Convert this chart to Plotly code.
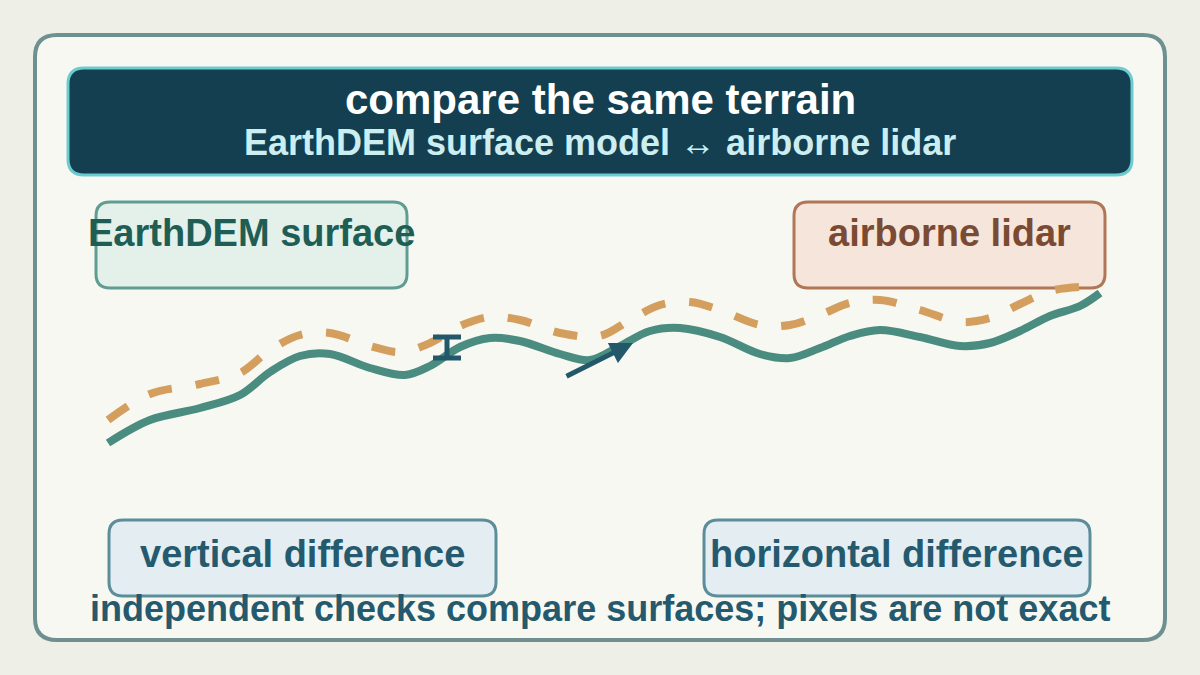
import plotly.graph_objects as go

solid_x = [108,150,200,240,270,300,330,370,405,430,460,490,520,560,590,620,650,680,720,760,790,820,850,880,920,960,990,1020,1050,1080,1100]
solid_y = [443,420,408,395,372,356,354,368,375,366,347,338,341,354,360,346,331,328,337,354,358,348,336,330,337,346,343,331,316,306,293]
dash_x = [108,150,200,240,270,300,330,370,400,430,460,490,520,560,600,630,660,690,720,760,790,820,850,880,920,960,990,1020,1050,1080]
dash_y = [420,394,384,373,350,335,333,346,352,343,326,317,320,333,336,320,305,302,310,325,325,315,303,300,310,322,318,304,291,287]

title = "compare the same terrain"
subtitle = "EarthDEM surface model ↔ airborne lidar"
footer = "independent checks compare surfaces; pixels are not exact"
boxes = [
    ("EarthDEM surface", 96, 202, 407, 288, "#e4f0ea", "#5f9d93", "#1f5e55"),
    ("airborne lidar", 794, 202, 1105, 288, "#f6e5da", "#b07656", "#7a4a33"),
    ("vertical difference", 109, 520, 496, 596, "#e3edf2", "#5b8d9a", "#255a6e"),
    ("horizontal difference", 704, 520, 1090, 596, "#e3edf2", "#5b8d9a", "#255a6e"),
]

def rr(x0, y0, x1, y1, r):
    return (f"M{x0+r},{y0} L{x1-r},{y0} Q{x1},{y0} {x1},{y0+r} L{x1},{y1-r} Q{x1},{y1} {x1-r},{y1} "
            f"L{x0+r},{y1} Q{x0},{y1} {x0},{y1-r} L{x0},{y0+r} Q{x0},{y0} {x0+r},{y0} Z")

FONT = "Liberation Sans, Arial, sans-serif"
fig = go.Figure()
fig.add_trace(go.Scatter(x=dash_x, y=dash_y, mode="lines", line=dict(color="#d49f5e", width=8, dash="dash", shape="spline"), hoverinfo="skip"))
fig.add_trace(go.Scatter(x=solid_x, y=solid_y, mode="lines", line=dict(color="#4a8c80", width=8, shape="spline"), hoverinfo="skip"))
fig.add_trace(go.Scatter(x=[447,447,None,433,461,None,433,461], y=[337,358,None,337,337,None,358,358], mode="lines",
                         line=dict(color="#23586a", width=5), hoverinfo="skip"))

shapes = [
    dict(type="path", path=rr(35, 35, 1165, 640, 22), fillcolor="#f8f8f2", line=dict(color="#6e9090", width=4), layer="below"),
    dict(type="path", path=rr(68, 68, 1132, 175, 16), fillcolor="#133f50", line=dict(color="#6ccbd0", width=3), layer="below"),
]
for t, x0, y0, x1, y1, f, b, c in boxes:
    shapes.append(dict(type="path", path=rr(x0, y0, x1, y1, 14), fillcolor=f, line=dict(color=b, width=3), layer="below"))

ann = [
    dict(x=600, y=99, text=f"<b>{title}</b>", font=dict(size=42, color="white", family=FONT), showarrow=False),
    dict(x=600, y=142, text=f"<b>{subtitle}</b>", font=dict(size=36, color="#cdeef0", family=FONT), showarrow=False),
    dict(x=600, y=608, text=f"<b>{footer}</b>", font=dict(size=36, color="#255a6e", family=FONT), showarrow=False),
    dict(x=633, y=343, ax=565, ay=377, xref="x", yref="y", axref="x", ayref="y", text="", showarrow=True,
         arrowhead=2, arrowsize=0.9, arrowwidth=5, arrowcolor="#23586a"),
]
for t, x0, y0, x1, y1, f, b, c in boxes:
    ann.append(dict(x=(x0+x1)/2, y=(y0+y1)/2 - (12 if y0 < 300 else 4), text=f"<b>{t}</b>",
                    font=dict(size=38, color=c, family=FONT), showarrow=False))

fig.update_layout(
    width=1200, height=675, margin=dict(l=0, r=0, t=0, b=0), showlegend=False,
    paper_bgcolor="#eef0e8", plot_bgcolor="rgba(0,0,0,0)",
    xaxis=dict(range=[0, 1200], visible=False, fixedrange=True),
    yaxis=dict(range=[675, 0], visible=False, fixedrange=True),
    shapes=shapes, annotations=ann,
)
fig.write_html("out.html", config={"displayModeBar": False},
               post_script="document.body.style.margin='0';document.body.style.overflow='hidden';")
